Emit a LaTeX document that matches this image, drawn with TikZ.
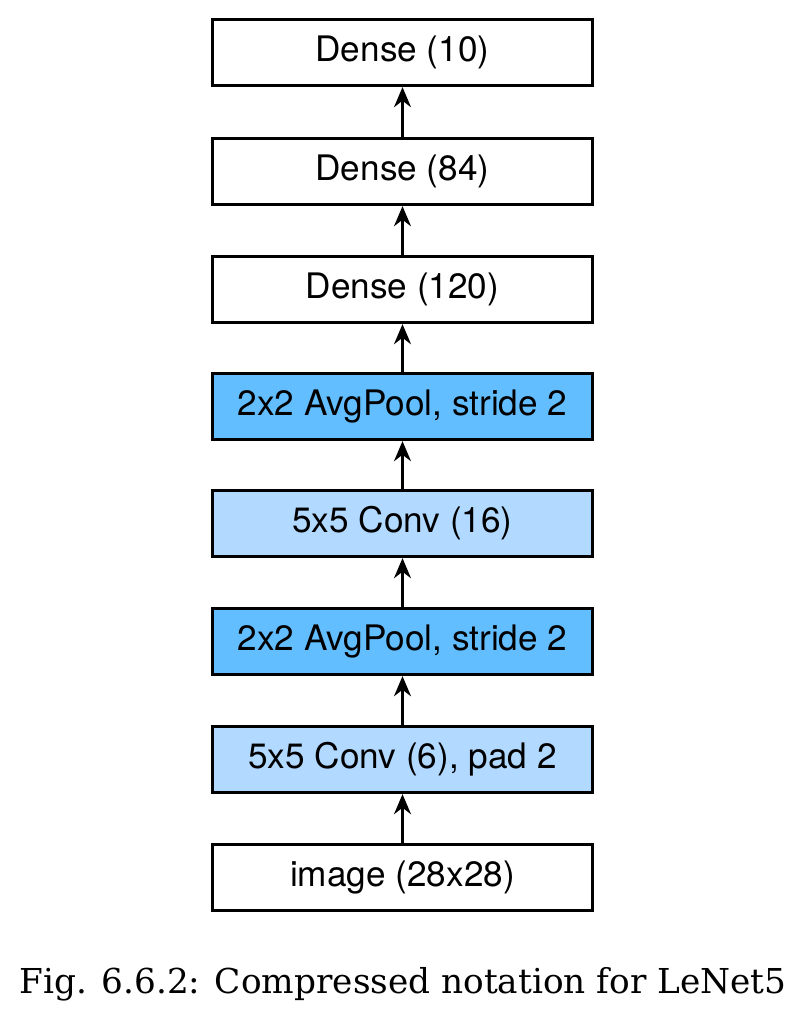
\documentclass[tikz,border=0pt]{standalone}
\usepackage{fontspec}
\setsansfont{TeX Gyre Heros}
\newfontfamily\captionfont{DejaVu Serif}
\usepackage{tikz}
\usetikzlibrary{arrows.meta}
\definecolor{poolblue}{RGB}{99,190,255}
\definecolor{convblue}{RGB}{178,217,255}
\tikzset{layer/.style={draw, line width=2pt, minimum width=9.5cm, minimum height=1.66cm,
    font=\sffamily\fontsize{25}{29}\selectfont, inner sep=0pt},
  every edge/.style={draw, line width=2.3pt, -{Stealth[length=5mm, width=4.2mm, inset=1.6mm]}}}

\begin{document}
\begin{tikzpicture}[x=0.025cm, y=-0.025cm]
  \useasboundingbox (0, 0) rectangle (806, 1010);

  \node[layer] at (402.5, 877.5) (img) {image (28x28)};
  \node[layer, fill=convblue] at (402.5, 759.5) (conv1) {5x5 Conv (6), pad 2};
  \node[layer, fill=poolblue] at (402.5, 641.5) (pool1) {2x2 AvgPool, stride 2};
  \node[layer, fill=convblue] at (402.5, 523.5) (conv2) {5x5 Conv (16)};
  \node[layer, fill=poolblue] at (402.5, 406.5) (pool2) {2x2 AvgPool, stride 2};
  \node[layer] at (402.5, 289.5) (fc1) {Dense (120)};
  \node[layer] at (402.5, 171.5) (fc2) {Dense (84)};
  \node[layer] at (402.5, 52.5) (fc3) {Dense (10)};

  \draw (img) edge (conv1)
        (conv1) edge (pool1)
        (pool1) edge (conv2)
        (conv2) edge (pool2)
        (pool2) edge (fc1)
        (fc1) edge (fc2)
        (fc2) edge (fc3);

  \node[anchor=base, font=\captionfont\fontsize{24.4}{28}\selectfont] at (403, 993) (caption)
    {Fig. 6.6.2: Compressed notation for LeNet5};
\end{tikzpicture}
\end{document}
